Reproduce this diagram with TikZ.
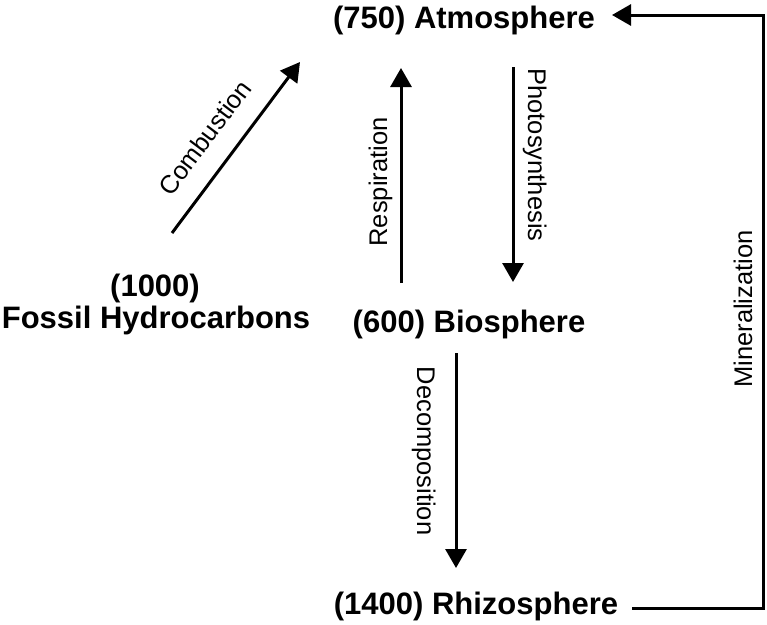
\documentclass[tikz,border=0pt]{standalone}
\usepackage{fontspec}
\setmainfont{Liberation Sans}
\usetikzlibrary{arrows.meta}
\begin{document}
\begin{tikzpicture}[x=1pt,y=-1pt,
  pool/.style={font=\fontsize{31}{36}\selectfont\bfseries, inner sep=0pt, anchor=base},
  flowlabel/.style={font=\fontsize{25.5}{30}\selectfont, inner sep=0pt, anchor=base},
  flow/.style={line width=3pt, line join=miter, -{Triangle[length=19pt,width=21pt]}},
]
\useasboundingbox (0,0) rectangle (767,624);
% pools
\node[pool] (atm) at (464,28) {(750) Atmosphere};
\node[pool] (fossilnum) at (155,296) {(1000)};
\node[pool] (fossil) at (156,328) {Fossil Hydrocarbons};
\node[pool] (bio) at (469,332) {(600) Biosphere};
\node[pool] (rhizo) at (476,614) {(1400) Rhizosphere};
% connector ends
\coordinate (comb-s) at (172,233);
\coordinate (comb-e) at (300,62);
\coordinate (resp-s) at (401,283);
\coordinate (resp-e) at (401,68);
\coordinate (photo-s) at (513,67);
\coordinate (photo-e) at (513,282);
\coordinate (dec-s) at (456,353);
\coordinate (dec-e) at (456,568);
\coordinate (min-s) at (632,608);
\coordinate (min-up) at (763,15);
\coordinate (min-e) at (612,15);
% flows
\draw[flow] (comb-s) -- (comb-e);
\draw[flow] (resp-s) -- (resp-e);
\draw[flow] (photo-s) -- (photo-e);
\draw[flow] (dec-s) -- (dec-e);
\draw[flow] (min-s) -| (min-up) -- (min-e);
% labels
\node[flowlabel, rotate=53] (comblab) at (212,143) {Combustion};
\node[flowlabel, rotate=90] (resplab) at (387,182) {Respiration};
\node[flowlabel, rotate=-90] (photolab) at (528,155) {Photosynthesis};
\node[flowlabel, rotate=-90] (declab) at (417,451) {Decomposition};
\node[flowlabel, rotate=90] (minlab) at (752,309) {Mineralization};
\end{tikzpicture}
\end{document}
